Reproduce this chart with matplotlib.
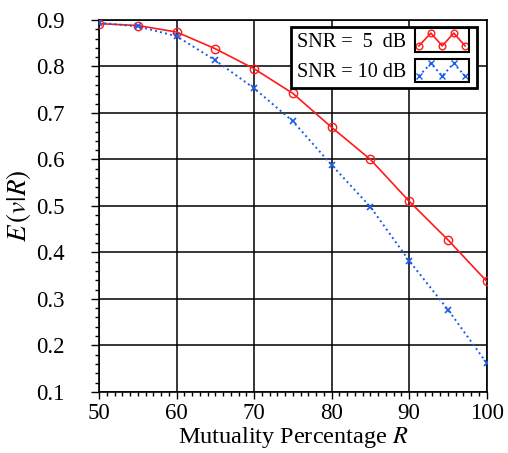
import numpy as np
import matplotlib
matplotlib.use('Agg')
import matplotlib.pyplot as plt
from matplotlib.lines import Line2D
from matplotlib.patches import Rectangle
from matplotlib.legend_handler import HandlerBase
from matplotlib.ticker import MultipleLocator

plt.rcParams['font.family'] = ['Liberation Serif', 'DejaVu Serif']
plt.rcParams['mathtext.fontset'] = 'stix'

# data
R = [50, 55, 60, 65, 70, 75, 80, 85, 90, 95, 100]
ev_snr5 = [0.892, 0.888, 0.874, 0.838, 0.795, 0.742, 0.669, 0.600, 0.510, 0.427, 0.338]
ev_snr10 = [0.894, 0.886, 0.865, 0.813, 0.753, 0.682, 0.588, 0.498, 0.382, 0.277, 0.162]
labels = ['SNR =  5  dB', 'SNR = 10 dB']


class ZigzagHandler(HandlerBase):
    # legend sample drawn as a zigzag with markers inside its own box
    def create_artists(self, legend, orig_handle, xdescent, ydescent,
                       width, height, fontsize, trans):
        h = height * 1.65
        x0, y0 = -xdescent, -ydescent + 0.5 * height - 0.5 * h
        xs = x0 + np.array([0.05, 0.27, 0.48, 0.69, 0.90]) * width
        ys = y0 + np.array([0.25, 0.8, 0.25, 0.8, 0.25]) * h
        line = Line2D(xs, ys, color=orig_handle.get_color(),
                      linestyle=orig_handle.get_linestyle(),
                      linewidth=orig_handle.get_linewidth(),
                      marker=orig_handle.get_marker(),
                      markersize=orig_handle.get_markersize() * 0.8,
                      markerfacecolor='none',
                      markeredgecolor=orig_handle.get_color(),
                      markeredgewidth=1.0)
        line.set_transform(trans)
        box = Rectangle((x0 - 0.03 * width, y0), width * 1.0, h,
                        facecolor='none', edgecolor='black', linewidth=1.5)
        box.set_transform(trans)
        return [line, box]


fig = plt.figure(figsize=(5.08, 4.53), dpi=100)
ax = fig.add_axes([0.195, 0.135, 0.763, 0.821])

l1, = ax.plot(R, ev_snr5, color='#ff1a1a', linestyle='-', linewidth=1.2,
              marker='o', markersize=6, markerfacecolor='none',
              markeredgewidth=1.0, zorder=3)
l2, = ax.plot(R, ev_snr10, color='#1a5ce6', linestyle=':', linewidth=1.4,
              marker='x', markersize=5, markeredgewidth=1.2, zorder=3)

ax.set_xlim(50, 100)
ax.set_ylim(0.1, 0.9)
ax.xaxis.set_major_locator(MultipleLocator(10))
ax.xaxis.set_minor_locator(MultipleLocator(1))
ax.yaxis.set_major_locator(MultipleLocator(0.1))
ax.yaxis.set_minor_locator(MultipleLocator(0.02))

ax.grid(True, which='major', color='black', linewidth=1.1, zorder=1)
ax.set_axisbelow(True)
for sp in ax.spines.values():
    sp.set_linewidth(1.2)

ax.tick_params(axis='x', which='major', direction='out', length=5, width=1,
               pad=3, labelsize=16.5)
ax.tick_params(axis='x', which='minor', direction='out', length=3, width=1)
ax.tick_params(axis='y', which='major', direction='out', length=6, width=1,
               pad=19, labelsize=16.5)
ax.tick_params(axis='y', which='minor', direction='out', length=3, width=1)

ax.set_xlabel('Mutuality Percentage $R$', fontsize=17.5, labelpad=1)
ax.set_ylabel(r'$E\,(v|R)$', fontsize=19.5, labelpad=2)

leg = ax.legend([l1, l2], labels, loc='upper right',
                bbox_to_anchor=(0.974, 0.981), borderaxespad=0,
                handler_map={Line2D: ZigzagHandler()},
                markerfirst=False, fontsize=14.5, fancybox=False,
                framealpha=1, edgecolor='black', handlelength=2.7,
                handletextpad=0.5, labelspacing=0.55, borderpad=0.3)
leg.get_frame().set_linewidth(2)

fig.savefig('out.png', dpi=100)
